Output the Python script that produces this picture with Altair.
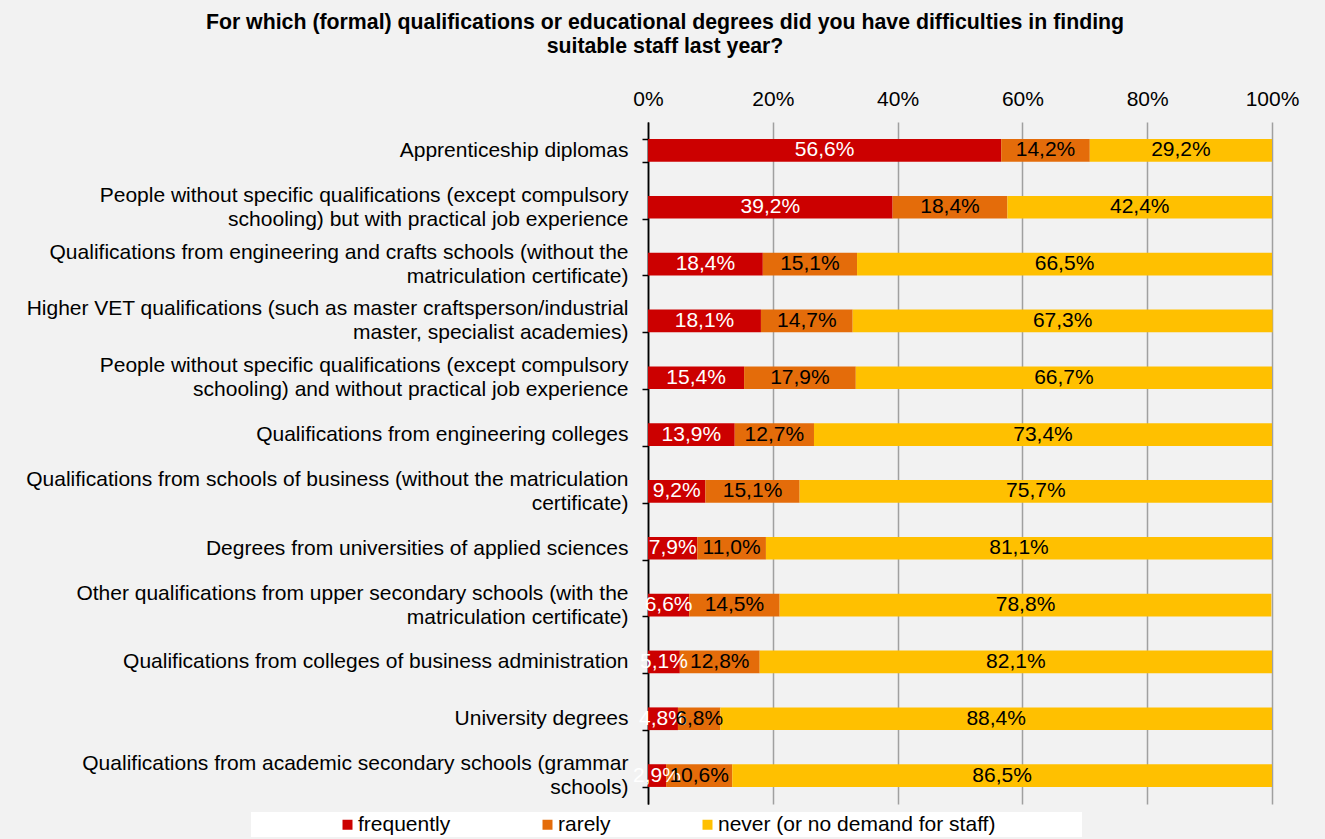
import altair as alt
import pandas as pd

categories = [
    "Apprenticeship diplomas",
    "People without specific qualifications (except compulsory|schooling) but with practical job experience",
    "Qualifications from engineering and crafts schools (without the|matriculation certificate)",
    "Higher VET qualifications (such as master craftsperson/industrial|master, specialist academies)",
    "People without specific qualifications (except compulsory|schooling) and without practical job experience",
    "Qualifications from engineering colleges",
    "Qualifications from schools of business (without the matriculation|certificate)",
    "Degrees from universities of applied sciences",
    "Other qualifications from upper secondary schools (with the|matriculation certificate)",
    "Qualifications from colleges of business administration",
    "University degrees",
    "Qualifications from academic secondary schools (grammar|schools)",
]
frequently = [56.6, 39.2, 18.4, 18.1, 15.4, 13.9, 9.2, 7.9, 6.6, 5.1, 4.8, 2.9]
rarely = [14.2, 18.4, 15.1, 14.7, 17.9, 12.7, 15.1, 11.0, 14.5, 12.8, 6.8, 10.6]
never = [29.2, 42.4, 66.5, 67.3, 66.7, 73.4, 75.7, 81.1, 78.8, 82.1, 88.4, 86.5]
series = ["frequently", "rarely", "never (or no demand for staff)"]
colors = ["#CC0000", "#E46C0A", "#FFC000"]
x_ticks = [0, 20, 40, 60, 80, 100]

rows = []
for i, cat in enumerate(categories):
    for j, vals in enumerate([frequently, rarely, never]):
        v = vals[i]
        rows.append({
            "cat": cat,
            "series": series[j],
            "order": j,
            "value": v,
            "label": f"{v:.1f}%".replace(".", ","),
        })
df = pd.DataFrame(rows)

FONT = "Liberation Sans"
FS = 21

y_enc = alt.Y(
    "cat:N",
    sort=categories,
    scale=alt.Scale(paddingInner=0.6, paddingOuter=0.3),
    axis=alt.Axis(
        title=None,
        labelExpr="split(datum.label, '|')",
        labelFont=FONT,
        labelFontSize=FS,
        labelColor="#000000",
        labelLimit=1000,
        labelLineHeight=24,
        labelPadding=14,
        labelOffset=alt.condition("indexof(datum.label, '|') >= 0", alt.value(-12), alt.value(0)),
        tickBand="extent",
        tickSize=6,
        tickColor="#000000",
        tickWidth=1.5,
        domainColor="#000000",
        domainWidth=1.5,
        grid=False,
    ),
)

base = alt.Chart(df).transform_stack(
    stack="value",
    groupby=["cat"],
    as_=["x0", "x1"],
    sort=[alt.SortField("order", order="ascending")],
).transform_calculate(mid="(datum.x0 + datum.x1) / 2")

PAD = "\u2003" * 4 + "\u200b"

bars = base.mark_bar(size=22.7).encode(
    y=y_enc,
    x=alt.X(
        "x0:Q",
        scale=alt.Scale(domain=[0, 100], nice=False),
        axis=alt.Axis(
            title=None,
            orient="top",
            values=x_ticks,
            labelExpr="datum.value + '%'",
            labelFont=FONT,
            labelFontSize=FS,
            labelColor="#000000",
            labelPadding=13,
            labelFlush=False,
            domain=False,
            ticks=False,
            grid=True,
            gridColor=alt.condition("datum.value === 0", alt.value("#000000"), alt.value("#A0A0A0")),
            gridWidth=1.5,
        ),
    ),
    x2="x1:Q",
    color=alt.Color(
        "series:N",
        scale=alt.Scale(domain=series, range=colors),
        sort=series,
        legend=alt.Legend(
            title=" ",
            titleOrient="left",
            titlePadding=84,
            titleFontSize=4,
            orient="none",
            legendX=-397,
            legendY=690,
            direction="horizontal",
            fillColor="#ffffff",
            padding=2,
            columnPadding=86,
            symbolType="square",
            symbolSize=100,
            symbolStrokeWidth=0,
            symbolOffset=0,
            labelOffset=0,
            labelFont=FONT,
            labelFontSize=FS,
            labelColor="#000000",
            labelLimit=1000,
            labelExpr=f"datum.label == '{series[2]}' ? datum.label + '{PAD}' : datum.label",
        ),
    ),
    order=alt.Order("order:Q"),
)

text = base.mark_text(font=FONT, fontSize=FS, baseline="middle", align="center").encode(
    y=alt.Y("cat:N", sort=categories),
    x=alt.X("mid:Q"),
    text="label:N",
    color=alt.condition(alt.datum.order == 0, alt.value("#ffffff"), alt.value("#000000")),
)

chart = alt.layer(bars, text).properties(
    width=624,
    height=682,
    autosize=alt.AutoSizeParams(type="none"),
    padding={"left": 648, "top": 122, "right": 53, "bottom": 35},
    background="#F2F2F2",
    title=alt.TitleParams(
        text=[
            "For which (formal) qualifications or educational degrees did you have difficulties in finding",
            "suitable staff last year?",
        ],
        font=FONT,
        fontSize=21.3,
        fontWeight="bold",
        color="#000000",
        anchor="middle",
        dx=-295,
        offset=31,
        lineHeight=24,
    ),
).configure_view(stroke=None)

chart.save("out.html", embed_options={"renderer": "svg", "actions": False})
